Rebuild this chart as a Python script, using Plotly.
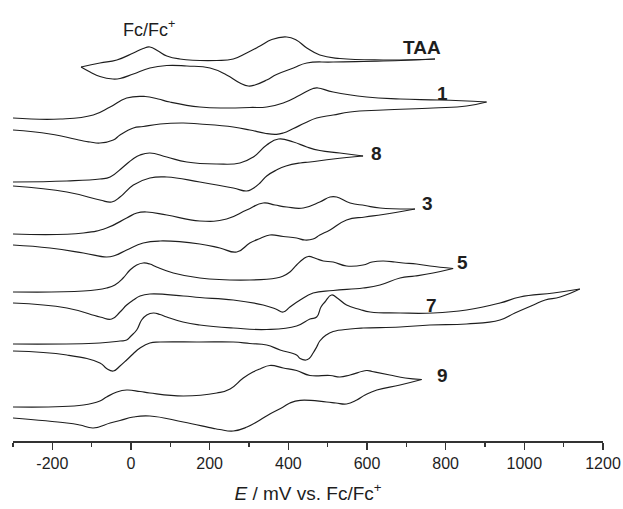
import plotly.graph_objects as go

# Cyclic voltammograms, potential E (mV vs Fc/Fc+), current in stacked arbitrary units
TAA_E_FWD = [-127, -79, -36, 6, 31, 48, 69, 91, 124, 218, 260, 294, 328, 358, 396, 420, 447, 480, 531, 641, 773]
TAA_I_FWD = [374, 378, 381, 388, 392.5, 394, 390, 385, 382, 380.5, 382, 388, 395, 401.5, 404, 401, 393, 386, 382.5, 381, 382]
TAA_E_REV = [773, 641, 514, 447, 413, 370, 345, 315, 298, 277, 243, 201, 142, 91, 48, 6, -28, -46, -79, -104, -127]
TAA_I_REV = [382, 380, 379, 378, 373, 366.5, 361, 356, 355, 358, 366, 373, 375, 375.5, 373, 367, 362.5, 362, 364.5, 369, 374]

C1_E_FWD = [-300, -180, -96, -53, -11, 36, 69, 99, 175, 243, 302, 345, 387, 430, 463, 475, 514, 599, 684, 785, 904]
C1_I_FWD = [323, 322, 326, 334, 343, 344.5, 342, 339, 334, 333, 333.5, 334, 338, 346, 352.5, 353, 349, 344, 342, 341, 339]
C1_E_REV = [904, 853, 768, 641, 557, 514, 472, 442, 413, 387, 370, 343, 302, 260, 175, 133, 74, 31, 6, -28, -45, -79, -104, -121, -206, -300]
C1_I_REV = [339, 335, 333, 331, 329, 326, 323, 318, 312.5, 308, 306.7, 307.5, 311, 314, 317, 318, 317, 314.5, 313, 306, 301, 298, 299, 300, 307, 311]

C8_E_FWD = [-300, -163, -79, -53, -20, 5, 23, 48, 91, 142, 218, 277, 311, 345, 375, 413, 447, 480, 531, 590]
C8_I_FWD = [259, 260, 262, 264, 274, 282, 286, 288, 284, 279, 277, 278, 284, 296, 302, 299, 294, 290.5, 288, 285]
C8_E_REV = [590, 514, 455, 430, 394, 370, 345, 328, 308, 294, 260, 175, 91, 48, 6, -28, -49, -79, -163, -300]
C8_I_REV = [285, 282, 279, 278, 275, 271, 265, 258, 252, 250, 253, 259, 264, 263, 256, 244, 239, 241, 249, 255]

C3_E_FWD = [-300, -121, -62, -11, 15, 40, 91, 175, 243, 294, 336, 366, 396, 438, 480, 506, 523, 557, 595, 633, 722]
C3_I_FWD = [207, 208, 213, 223, 228, 229, 226, 220, 222, 231, 238, 236, 234, 233, 239, 244, 244, 238, 235.5, 233, 232]
C3_E_REV = [722, 641, 595, 548, 506, 480, 463, 442, 421, 387, 353, 328, 302, 269, 226, 175, 74, 31, -11, -41, -62, -121, -206, -300]
C3_I_REV = [232, 226.5, 224, 221, 211, 206, 202, 201, 203, 204.5, 206, 202.5, 198, 189, 193, 197, 200, 198, 191, 185.5, 184, 188, 193, 196]

C5_E_FWD = [-300, -121, -62, -41, -20, -2.5, 14.5, 31, 48, 65, 107.5, 175, 302, 370, 387, 404, 421, 438, 451, 470, 489, 514, 548, 590, 613, 641, 671, 692, 726, 760, 819]
C5_I_FWD = [149, 150, 153, 156, 163, 171, 176, 178, 177, 174, 168, 163, 161, 163, 165, 169, 176, 182, 184.5, 182.5, 180, 179, 175, 176, 179, 180, 179, 178, 177, 175, 172.5]
C5_E_REV = [819, 768, 722, 684, 633, 590, 514, 463, 430, 404, 387, 368, 336, 260, 175, 133, 48, 23, 6, -11, -28, -49, -79, -163, -300]
C5_I_REV = [172.5, 168, 165, 163, 156, 153, 150.5, 148, 141, 134, 129, 132, 136, 141, 143.5, 145, 147, 145, 141, 136, 129, 122, 124, 133, 138]

C7_E_FWD = [-300, -79, -28, -11, 0, 14.5, 27, 40, 57, 74, 91, 132, 175, 260, 345, 421, 455, 472, 483, 493, 510, 526, 548, 582, 608, 684, 768, 853, 938, 989, 1074, 1141]
C7_I_FWD = [97, 98, 100, 101, 105, 111, 121, 126, 128, 126.5, 124, 119, 116, 113, 111.5, 115, 122, 124, 134, 139, 146, 142.5, 136, 131.5, 129, 128, 128, 131, 138, 144, 148, 152]
C7_E_REV = [1141, 1091, 1053, 1023, 976, 938, 853, 760, 684, 590, 557, 514, 496, 480, 472, 463, 453, 445, 430, 421, 379, 345, 302, 260, 175, 74, 48, 23, 5, -11, -28, -45, -62, -79, -163, -300]
C7_I_REV = [152, 144, 141, 136, 128, 121, 117, 116, 114, 113, 112, 109.5, 106, 100, 94, 88, 82.5, 81, 82.5, 86, 91, 96, 97.5, 99, 99, 99, 98, 93, 87, 81, 75, 70, 72.5, 78, 86, 90]

C9_E_FWD = [-300, -121, -79, -62, -36, -11, 23, 48, 133, 218, 252, 285.5, 310, 328, 353, 387, 421, 455, 506, 531, 557, 599, 613, 658, 697, 739]
C9_I_FWD = [34, 36, 40, 44, 49, 51, 49.5, 48, 45, 48, 52, 63, 69, 72, 75.5, 73, 70.5, 65.5, 65.5, 64, 66, 70.5, 69.5, 66, 63, 61.5]
C9_E_REV = [739, 684, 625, 595, 574, 548, 521, 497, 430, 404, 387, 353, 328, 295, 260, 226, 209, 133, 48, 6, -28, -53, -96, -130, -163, -300]
C9_I_REV = [61.5, 56, 51, 46, 41, 37, 38, 39, 40.7, 38, 34, 27, 21, 14, 10, 11.5, 12.7, 19, 25, 24, 20.5, 18, 13, 16, 18, 23]

CURVES = [
    (TAA_E_FWD, TAA_I_FWD, TAA_E_REV, TAA_I_REV),
    (C1_E_FWD, C1_I_FWD, C1_E_REV, C1_I_REV),
    (C8_E_FWD, C8_I_FWD, C8_E_REV, C8_I_REV),
    (C3_E_FWD, C3_I_FWD, C3_E_REV, C3_I_REV),
    (C5_E_FWD, C5_I_FWD, C5_E_REV, C5_I_REV),
    (C7_E_FWD, C7_I_FWD, C7_E_REV, C7_I_REV),
    (C9_E_FWD, C9_I_FWD, C9_E_REV, C9_I_REV),
]

LABELS = ["TAA", "1", "8", "3", "5", "7", "9"]
LABEL_E = [740, 791, 625, 755, 844, 765, 791]
LABEL_I = [393.5, 347.5, 288, 237.5, 178.5, 135.5, 65.5]

REF_LABEL = "Fc/Fc<sup>+</sup>"
REF_E, REF_I = 46, 413

TICK_VALS = [-200, 0, 200, 400, 600, 800, 1000, 1200]
TICK_TEXT = ["-200", "0", "200", "400", "600", "800", "1000", "1200"]

FONT = "Arial, Liberation Sans, sans-serif"
LINE = dict(color="#1e1e1e", width=1.2, shape="spline", smoothing=1.3)

fig = go.Figure()
for ef, i_f, er, i_r in CURVES:
    fig.add_trace(go.Scatter(x=ef, y=i_f, mode="lines", line=LINE, hoverinfo="skip"))
    fig.add_trace(go.Scatter(x=er, y=i_r, mode="lines", line=LINE, hoverinfo="skip"))

for t, e, i in zip(LABELS, LABEL_E, LABEL_I):
    fig.add_annotation(x=e, y=i, text=f"<b>{t}</b>", showarrow=False,
                       font=dict(family=FONT, size=19, color="#1e1e1e"),
                       xanchor="center", yanchor="middle")

fig.add_annotation(x=REF_E, y=REF_I, text=REF_LABEL, showarrow=False,
                   font=dict(family=FONT, size=18, color="#1e1e1e"),
                   xanchor="center", yanchor="middle")

fig.update_layout(
    width=623, height=509,
    margin=dict(l=13, r=20, t=0, b=68),
    paper_bgcolor="white", plot_bgcolor="white",
    showlegend=False,
    font=dict(family=FONT, color="#1e1e1e"),
)
fig.update_xaxes(
    range=[-300, 1200], showgrid=False, zeroline=False,
    showline=True, linecolor="#333333", linewidth=1.5,
    ticks="outside", ticklen=7, tickwidth=1.5, tickcolor="#333333",
    tickmode="array", tickvals=TICK_VALS, ticktext=TICK_TEXT,
    minor=dict(ticks="outside", ticklen=4, tickwidth=1.5, tickcolor="#333333",
               tickmode="linear", tick0=-300, dtick=100, showgrid=False),
    tickfont=dict(family=FONT, size=16, color="#1e1e1e"),
    title=dict(text="<i>E</i> / mV vs. Fc/Fc<sup>+</sup>", font=dict(family=FONT, size=19, color="#1e1e1e"), standoff=16),
)
fig.update_yaxes(range=[0, 441], visible=False, showgrid=False, zeroline=False)

fig.write_html("out.html", config={"displayModeBar": False, "staticPlot": True},
               post_script="document.body.style.margin='0';document.body.style.overflow='hidden';")
